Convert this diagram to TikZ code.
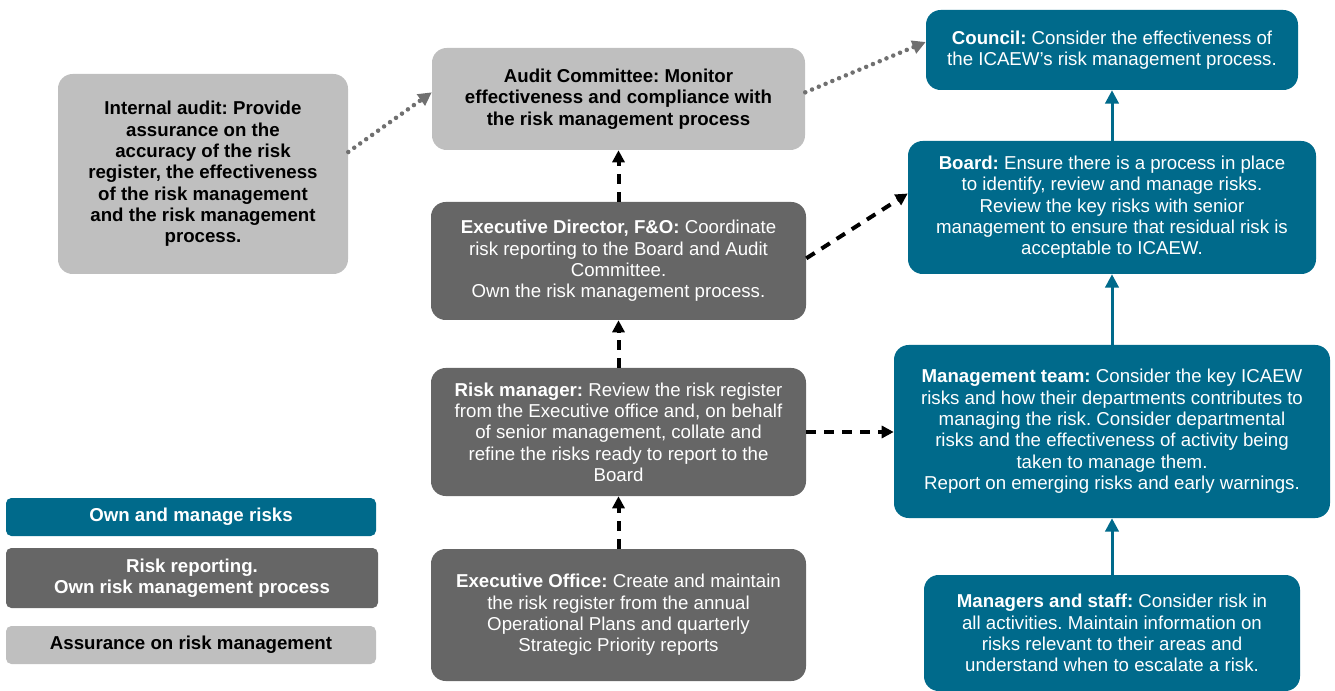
\documentclass[tikz,border=0pt]{standalone}
\usepackage{fontspec}
\setmainfont{Liberation Sans}
\usepackage{xcolor}
\usepackage{tikz}
\usetikzlibrary{arrows.meta,calc}
\definecolor{ownteal}{RGB}{0,106,139}
\definecolor{repgray}{RGB}{102,102,102}
\definecolor{assgray}{RGB}{191,191,191}
\definecolor{dotgray}{RGB}{112,112,112}
\frenchspacing
\tikzset{
  rk box/.style={
    rectangle,
    rounded corners=11pt,
    inner sep=0pt,
    align=center,
    font=\fontsize{14}{16}\selectfont,
  },
  rk own/.style={rk box, fill=ownteal, text=white},
  rk report/.style={rk box, fill=repgray, text=white},
  rk assure/.style={rk box, fill=assgray, text=black, font=\fontsize{14}{16}\selectfont\bfseries},
  rk key/.style={rounded corners=4pt},
  rk dash/.style={-{Triangle[length=9pt,width=9pt]}, line width=3pt, dash pattern=on 7.5pt off 6pt, black},
  rk up/.style={-{Triangle[length=10pt,width=10pt]}, line width=2.25pt, ownteal},
  rk dots/.style={-{Triangle[length=10pt,width=10pt]}, line width=3.4pt, line cap=round,
    dash pattern=on 0pt off 5.5pt, dotgray},
}

\begin{document}
\begin{tikzpicture}[x=0.75pt,y=-0.75pt]
  \useasboundingbox (0,0) rectangle (1335,691);

  % assurance column
  \node[rk assure, minimum width=217.5pt, minimum height=150pt] (ia) at (203,174)
    {Internal audit: Provide\\assurance on the\\accuracy of the risk\\register, the effectiveness\\of the risk management\\and the risk management\\process.};
  \node[rk assure, minimum width=279.75pt, minimum height=76.5pt] (ac) at (618.5,99)
    {Audit Committee: Monitor\\effectiveness and compliance with\\the risk management process};

  % reporting column
  \node[rk report, minimum width=281.25pt, minimum height=88.5pt] (ed) at (618.5,261)
    {\textbf{Executive Director, F\&O:} Coordinate\\risk reporting to the Board and Audit\\Committee.\\Own the risk management process.};
  \node[rk report, minimum width=281.25pt, minimum height=96pt] (rm) at (618.5,432)
    {\textbf{Risk manager:} Review the risk register\\from the Executive office and, on behalf\\of senior management, collate and\\refine the risks ready to report to the\\Board};
  \node[rk report, minimum width=281.25pt, minimum height=99pt] (eo) at (618.5,615)
    {\textbf{Executive Office:} Create and maintain\\the risk register from the annual\\Operational Plans and quarterly\\Strategic Priority reports};

  % owning column
  \node[rk own, minimum width=279pt, minimum height=60pt] (co) at (1112,50)
    {\textbf{Council:} Consider the effectiveness of\\the ICAEW’s risk management process.};
  \node[rk own, minimum width=306pt, minimum height=99.75pt] (bd) at (1112,207.5)
    {\textbf{Board:} Ensure there is a process in place\\to identify, review and manage risks.\\Review the key risks with senior\\management to ensure that residual risk is\\acceptable to ICAEW.};
  \node[rk own, minimum width=327pt, minimum height=129.75pt] (mt) at (1112,431.5)
    {\textbf{Management team:} Consider the key ICAEW\\risks and how their departments contributes to\\managing the risk. Consider departmental\\risks and the effectiveness of activity being\\taken to manage them.\\Report on emerging risks and early warnings.};
  \node[rk own, minimum width=282pt, minimum height=87pt] (ms) at (1112,633)
    {\textbf{Managers and staff:} Consider risk in\\all activities. Maintain information on\\risks relevant to their areas and\\understand when to escalate a risk.};

  % key
  \node[rk own, rk key, font=\fontsize{14}{16}\selectfont\bfseries, minimum width=277.5pt, minimum height=28.5pt] (key_own) at (191,517)
    {Own and manage risks};
  \node[rk report, rk key, font=\fontsize{14}{16}\selectfont\bfseries, minimum width=279pt, minimum height=45pt] (key_rep) at (192,578)
    {Risk reporting.\\Own risk management process};
  \node[rk assure, rk key, minimum width=277.5pt, minimum height=28.5pt] (key_ass) at (191,645)
    {Assurance on risk management};

  \draw[rk dots] ([yshift=16.5pt]ia.east) -- ([yshift=5pt]ac.west);
  \draw[rk dots] ([yshift=5pt]ac.east) -- ([yshift=6pt]co.west);

  \draw[rk dash] (ed) -- (ac);
  \draw[rk dash] (rm) -- (ed);
  \draw[rk dash] (eo) -- (rm);
  \draw[rk dash] ([yshift=2pt]ed.east) -- ([yshift=10.5pt]bd.west);
  \draw[rk dash] (rm.east) -- (rm.east -| mt.west);

  \draw[rk up] (bd) -- (co);
  \draw[rk up] (mt) -- (bd);
  \draw[rk up] (ms) -- (mt);
\end{tikzpicture}
\end{document}
